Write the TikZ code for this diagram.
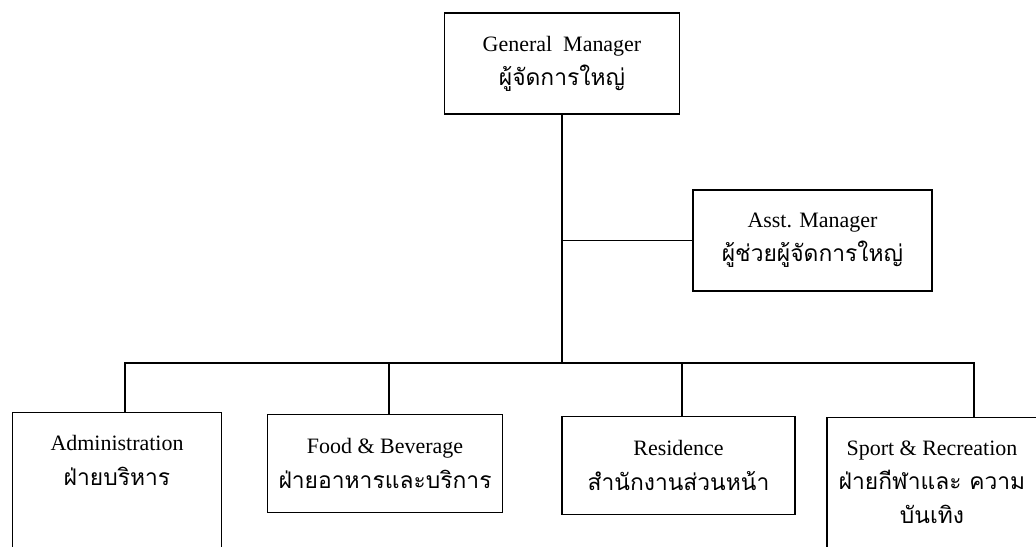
\documentclass[tikz,border=0pt]{standalone}
\usepackage{fontspec}
\setmainfont{Liberation Serif}
\newfontfamily\thaifont[Script=Thai]{Loma}
\newcommand{\thline}[1]{{\thaifont\fontsize{13}{19}\selectfont #1}}
\usepackage{tikz}
\usetikzlibrary{positioning}

\begin{document}
\begin{tikzpicture}[x=0.02cm, y=-0.02cm, line width=0.8pt,
  post/.style={draw, align=center, inner xsep=0pt, inner ysep=13pt,
    font=\fontsize{12.5}{19.5}\selectfont},
  unit/.style={post, minimum width=4.7cm, minimum height=1.96cm},
  wide/.style={post, anchor=north, minimum width=4.18cm}]
\useasboundingbox (0,0) rectangle (1036,547);
\clip (0,0) rectangle (1036,547);

% top of the chart
\node [unit, minimum height=2.02cm] (gm) at (562,63.5) {General\ \ Manager\\\thline{ผู้จัดการใหญ่}};
\node [unit, minimum width=4.78cm, minimum height=2.02cm] (asst) at (812.5,240.5) {Asst. Manager\\\thline{ผู้ช่วยผู้จัดการใหญ่}};

% departments
\node [wide] (adm) at (117,412) {Administration\\\thline{ฝ่ายบริหาร}\\\strut\\\strut};
\node [unit] (fb) at (385,463.5) {Food \& Beverage\\\thline{ฝ่ายอาหารและบริการ}};
\node [unit, minimum width=4.66cm] (res) at (678.5,465.5) {Residence\\\thline{สำนักงานส่วนหน้า}};
\node [wide, minimum width=4.2cm] (spt) at (932,417) {Sport \& Recreation\\\thline{ฝ่ายกีฬาและ ความ}\\\thline{บันเทิง}\\\strut};

\coordinate (bus) at (gm.south |- 0,363);

\draw (gm.south) -- (bus);
\draw (asst.west) -- (asst.west -| gm.south);
\foreach \d/\x in {adm/125, fb/389, res/682, spt/974}
  \draw (\d.north -| \x,0) |- (bus);
\end{tikzpicture}
\end{document}
